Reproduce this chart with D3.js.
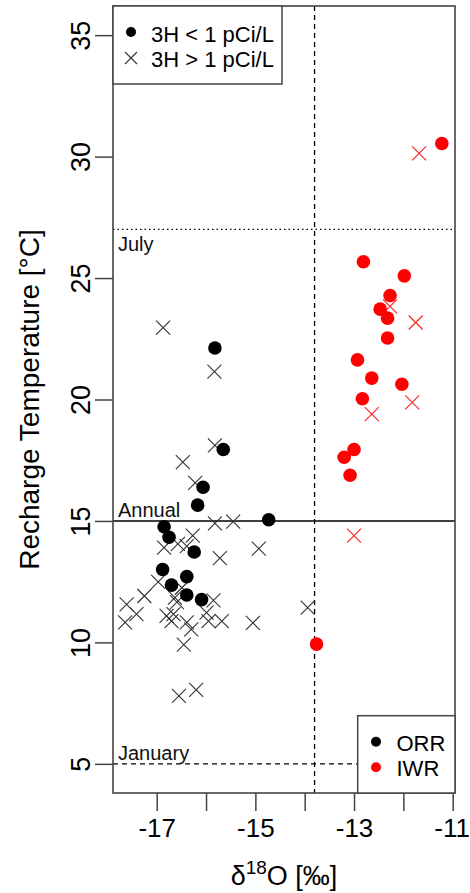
<!DOCTYPE html>
<html><head><meta charset="utf-8">
<script src="https://cdn.jsdelivr.net/npm/d3@7"></script>
<style>body{margin:0;background:#fff}svg{display:block;font-family:"Liberation Sans",Arial,sans-serif}</style>
</head><body><svg id="c" width="470" height="893"></svg>
<script>
// ORR, tritium < 1 pCi/L (filled dots)
const orrLowD18O = [-15.82,-15.65,-16.06,-16.17,-14.73,-16.85,-16.75,-16.24,-16.88,-16.39,-16.70,-16.39,-16.09];
const orrLowTemp = [22.12,17.94,16.39,15.65,15.05,14.76,14.33,13.72,13.00,12.71,12.36,11.95,11.76];
// ORR, tritium > 1 pCi/L (crosses)
const orrHighD18O = [-16.87,-15.83,-15.82,-16.47,-16.22,-15.82,-15.45,-16.27,-16.57,-16.39,-16.85,-14.93,-15.72,-16.97,-16.49,-17.25,-16.63,-15.85,-16.59,-17.61,-13.94,-15.99,-17.41,-16.66,-16.80,-16.70,-15.95,-15.68,-17.64,-16.39,-15.05,-16.30,-16.45,-16.20,-16.55];
const orrHighTemp = [22.96,21.15,18.11,17.42,16.57,14.90,14.97,14.40,14.06,13.96,13.90,13.86,13.47,12.49,12.25,11.91,11.84,11.73,11.66,11.57,11.43,11.23,11.16,11.16,11.09,10.88,10.88,10.88,10.82,10.82,10.80,10.54,9.91,8.05,7.80];
// IWR, tritium < 1 pCi/L
const iwrLowD18O = [-11.22,-12.81,-11.98,-12.27,-12.47,-12.32,-12.32,-12.93,-12.64,-12.03,-12.83,-13.00,-13.20,-13.08,-13.76];
const iwrLowTemp = [30.54,25.67,25.09,24.28,23.72,23.35,22.53,21.63,20.88,20.63,20.03,17.94,17.62,16.88,9.93];
// IWR, tritium > 1 pCi/L
const iwrHighD18O = [-11.68,-12.27,-11.75,-11.82,-12.64,-13.00];
const iwrHighTemp = [30.13,23.83,23.17,19.88,19.40,14.40];

const yTicks = [5,10,15,20,25,30,35];
const xTicks = [-17,-16,-15,-14,-13,-12,-11];
const xTickLabels = ["-17","","-15","","-13","","-11"];
const refTemps = [27,15,5];           // July, Annual, January
const refLabels = ["July","Annual","January"];
const divideD18O = -13.8;
const legendTritium = ["3H < 1 pCi/L","3H > 1 pCi/L"];
const legendSites = ["ORR","IWR"];
const siteColors = ["#000000","#ff0000"];

const svg = d3.select("#c");
const L=113, R=455, T=6, B=793;
const x = d3.scaleLinear().domain([-17.886,-10.953]).range([L,R]);
const y = d3.scaleLinear().domain([3.8,36.2]).range([B,T]);
const frame = "#444";

// reference lines
svg.append("line").attr("x1",x(divideD18O)).attr("x2",x(divideD18O)).attr("y1",T).attr("y2",B)
  .attr("stroke","#000").attr("stroke-width",1.3).attr("stroke-dasharray","5,4");
svg.append("line").attr("x1",L).attr("x2",R).attr("y1",y(refTemps[0])).attr("y2",y(refTemps[0]))
  .attr("stroke","#000").attr("stroke-width",1.3).attr("stroke-dasharray","1.5,3");
svg.append("line").attr("x1",L).attr("x2",R).attr("y1",y(refTemps[1])).attr("y2",y(refTemps[1]))
  .attr("stroke","#000").attr("stroke-width",1.6);
svg.append("line").attr("x1",L).attr("x2",R).attr("y1",y(refTemps[2])).attr("y2",y(refTemps[2]))
  .attr("stroke","#000").attr("stroke-width",1.3).attr("stroke-dasharray","5,4");
refLabels.forEach((t,i)=>{
  svg.append("text").attr("x",118).attr("y",y(refTemps[i])-(i===0?-22:4))
    .attr("font-size",20).attr("fill","#111").text(t);
});

// points
function dots(xs,ys,col,r){
  svg.append("g").selectAll("circle").data(xs.map((v,i)=>[v,ys[i]])).join("circle")
    .attr("cx",d=>x(d[0])).attr("cy",d=>y(d[1])).attr("r",r).attr("fill",col);
}
function crosses(xs,ys,col,h){
  svg.append("g").selectAll("path").data(xs.map((v,i)=>[v,ys[i]])).join("path")
    .attr("d",d=>{const cx=x(d[0]),cy=y(d[1]);return `M${cx-h},${cy-h}L${cx+h},${cy+h}M${cx-h},${cy+h}L${cx+h},${cy-h}`;})
    .attr("stroke",col).attr("stroke-width",1.1).attr("fill","none");
}
crosses(orrHighD18O,orrHighTemp,"#333",7);
dots(orrLowD18O,orrLowTemp,siteColors[0],6.8);
crosses(iwrHighD18O,iwrHighTemp,"#ff2020",7);
dots(iwrLowD18O,iwrLowTemp,siteColors[1],6.8);

// axes
const ya = svg.append("g").attr("transform",`translate(${L},0)`)
  .call(d3.axisLeft(y).tickValues(yTicks).tickSize(18).tickFormat(d3.format("d")));
ya.select(".domain").remove();
ya.selectAll("line").attr("stroke",frame).attr("stroke-width",1.5);
ya.selectAll(".tick text").attr("font-size",27).attr("fill","#000")
  .attr("x",null).attr("dy",null).attr("y",0).attr("text-anchor","middle")
  .attr("transform","translate(-23,0) rotate(-90)");

const xa = svg.append("g").attr("transform",`translate(0,${B})`)
  .call(d3.axisBottom(x).tickValues(xTicks).tickSize(18).tickPadding(8).tickFormat((d,i)=>xTickLabels[i]));
xa.select(".domain").remove();
xa.selectAll("line").attr("stroke",frame).attr("stroke-width",1.5);
xa.selectAll("text").attr("font-size",26).attr("fill","#000");
// last label sits flush with the right edge, as in the reference
xa.selectAll(".tick text").filter(d=>d===xTicks[xTicks.length-1])
  .attr("text-anchor","end").attr("x",469.5-x(xTicks[xTicks.length-1]));

// frame
svg.append("rect").attr("x",L).attr("y",T).attr("width",R-L).attr("height",B-T)
  .attr("fill","none").attr("stroke",frame).attr("stroke-width",1.6);

// axis titles
svg.append("text").attr("transform",`translate(38.5,${(T+B)/2}) rotate(-90)`).attr("text-anchor","middle")
  .attr("font-size",28).attr("fill","#000").text("Recharge Temperature [°C]");
const xt = svg.append("text").attr("x",(L+R)/2).attr("y",885).attr("text-anchor","middle")
  .attr("font-size",27).attr("fill","#000");
xt.append("tspan").text("δ");
xt.append("tspan").attr("font-size",19).attr("dy",-11).text("18");
xt.append("tspan").attr("dy",11).text("O [‰]");

// legend: tritium
const lg1 = svg.append("g");
lg1.append("rect").attr("x",L).attr("y",T).attr("width",169).attr("height",78)
  .attr("fill","#fff").attr("stroke",frame).attr("stroke-width",1.5);
lg1.append("circle").attr("cx",131).attr("cy",32).attr("r",5).attr("fill","#000");
lg1.append("path").attr("d","M125,52L137,64M125,64L137,52").attr("stroke","#333").attr("stroke-width",1.1);
legendTritium.forEach((t,i)=>lg1.append("text").attr("x",151).attr("y",41.5+25*i).attr("font-size",22).attr("fill","#000").text(t));

// legend: sites
const lg2 = svg.append("g");
lg2.append("rect").attr("x",357.7).attr("y",715.7).attr("width",R-357.7).attr("height",B-715.7)
  .attr("fill","#fff").attr("stroke",frame).attr("stroke-width",1.5);
legendSites.forEach((t,i)=>{
  lg2.append("circle").attr("cx",376).attr("cy",741.7+25.6*i).attr("r",5).attr("fill",siteColors[i]);
  lg2.append("text").attr("x",396.5).attr("y",750.5+25.6*i).attr("font-size",22).attr("fill","#000").text(t);
});
</script></body></html>
